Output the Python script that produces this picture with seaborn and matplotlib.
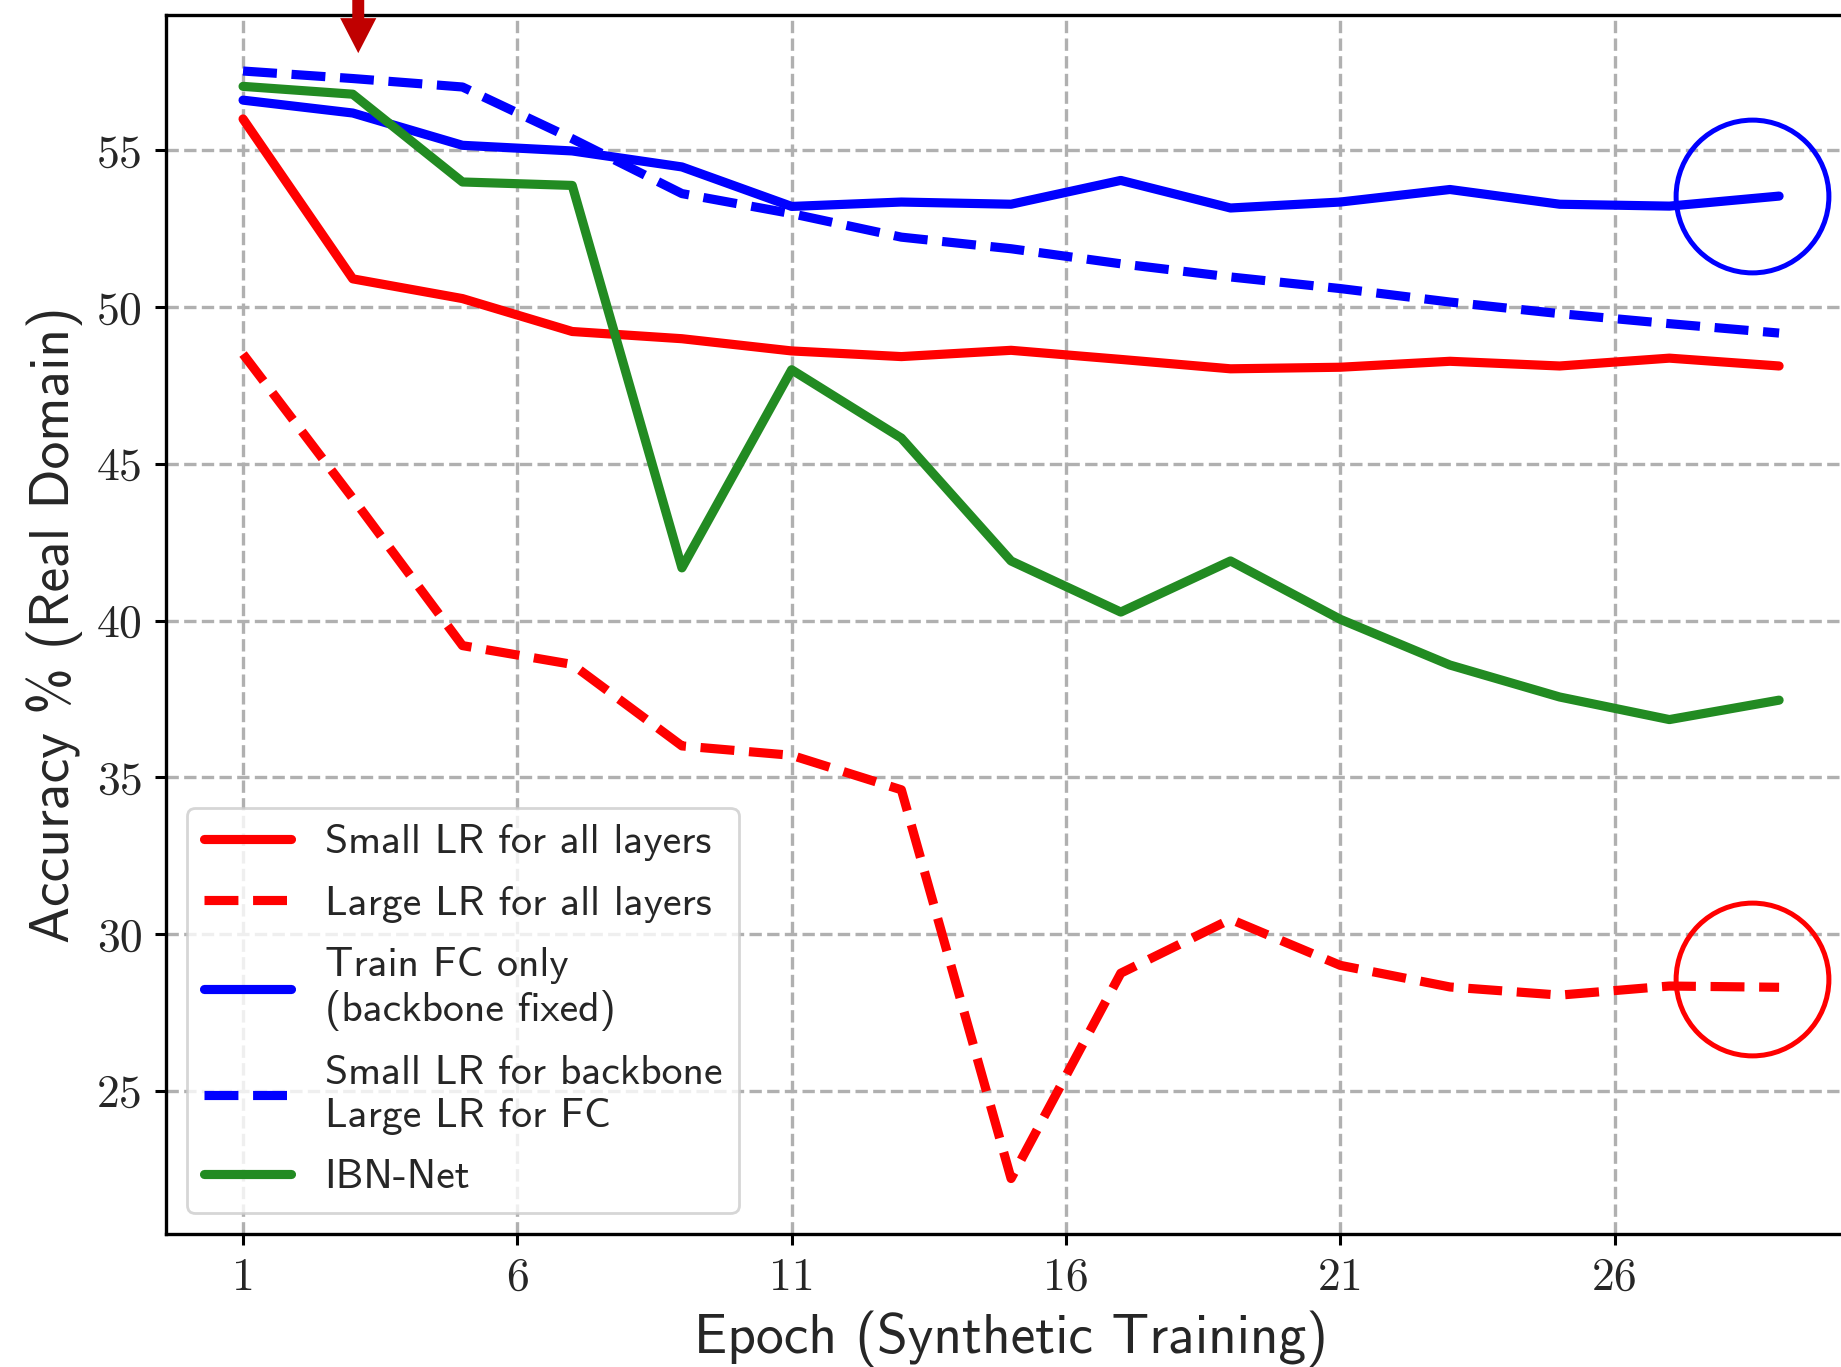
import numpy as np
import pandas as pd
import matplotlib
matplotlib.use('Agg')
import matplotlib.pyplot as plt
import seaborn as sns

# Epochs (every other epoch was evaluated)
epochs = [1, 3, 5, 7, 9, 11, 13, 15, 17, 19, 21, 23, 25, 27, 29]

small_lr_all = [56.0, 50.9, 50.27, 49.22, 48.99, 48.6, 48.42, 48.62, 48.33, 48.03, 48.08, 48.27, 48.12, 48.37, 48.12]
large_lr_all = [48.5, 43.9, 39.2, 38.6, 36.0, 35.7, 34.6, 22.2, 28.75, 30.47, 29.0, 28.31, 28.05, 28.34, 28.3]
train_fc_only = [56.6, 56.19, 55.16, 54.98, 54.47, 53.21, 53.35, 53.28, 54.04, 53.16, 53.35, 53.75, 53.28, 53.22, 53.54]
small_bb_large_fc = [57.53, 57.29, 57.02, 55.37, 53.62, 52.98, 52.23, 51.86, 51.38, 50.96, 50.59, 50.16, 49.79, 49.47, 49.17]
ibn_net = [57.04, 56.79, 53.99, 53.88, 41.68, 48.0, 45.82, 41.9, 40.27, 41.9, 40.04, 38.58, 37.56, 36.84, 37.46]

series_names = ["Small LR for all layers", "Large LR for all layers",
                "Train FC only\n(backbone fixed)",
                "Small LR for backbone\nLarge LR for FC", "IBN-Net"]
series_values = [small_lr_all, large_lr_all, train_fc_only, small_bb_large_fc, ibn_net]
series_colors = ["#ff0000", "#ff0000", "#0000ff", "#0000ff", "#228b22"]
series_styles = ["-", "--", "-", "--", "-"]

xticks = [1, 6, 11, 16, 21, 26]
yticks = [25, 30, 35, 40, 45, 50, 55]

# highlighted end points (circles) and the marker arrow
circle_epoch = 28.5
arrow_epoch = 3.1

sns.set_style('white')
plt.rcParams['font.family'] = ['cmss10', 'DejaVu Sans']
plt.rcParams['axes.unicode_minus'] = False

fig = plt.figure(figsize=(9.205, 6.835), dpi=200)
ax = fig.add_axes([0.0903, 0.0973, 0.9178, 0.8918])

for name, vals, col, ls in zip(series_names, series_values, series_colors, series_styles):
    df = pd.DataFrame({'epoch': epochs, 'acc': vals})
    sns.lineplot(data=df, x='epoch', y='acc', color=col, linestyle=ls,
                 linewidth=3.3, label=name, ax=ax)

# circles around last values
ax.plot([circle_epoch], [train_fc_only[-1]], marker='o', markersize=55, markerfacecolor='none',
        markeredgecolor='#0000ff', markeredgewidth=1.8, linestyle='none')
ax.plot([circle_epoch], [large_lr_all[-1] + 0.25], marker='o', markersize=55, markerfacecolor='none',
        markeredgecolor='#ff0000', markeredgewidth=1.8, linestyle='none')

ax.set_xlim(-0.4, 30.4)
ax.set_ylim(20.43, 59.32)

# arrow at the top
ax.annotate('', xy=(arrow_epoch, 58.1), xytext=(arrow_epoch, 60.6),
            arrowprops=dict(width=4.3, headwidth=13, headlength=12.6, shrink=0,
                            color='#c00000', lw=0),
            annotation_clip=False)

ax.set_xticks(xticks)
ax.set_yticks(yticks)
ax.set_xticklabels([str(t) for t in xticks], fontfamily='cmr10', fontsize=16.5)
ax.set_yticklabels([str(t) for t in yticks], fontfamily='cmr10', fontsize=16.5)
ax.tick_params(direction='out', length=4, width=1.1, color='black', bottom=True, left=True, pad=4.5)

ax.grid(True, linestyle='--', color='#b0b0b0', linewidth=1.2)
for s in ['top', 'bottom', 'left']:
    ax.spines[s].set_color('black')
    ax.spines[s].set_linewidth(1.2)
ax.spines['right'].set_visible(False)

ax.set_xlabel('Epoch (Synthetic Training)', fontsize=20, labelpad=4)
ax.set_ylabel('Accuracy % (Real Domain)', fontsize=20, labelpad=5)

leg = ax.legend(loc='lower left', fontsize=15, handlelength=2.1, framealpha=0.8,
                edgecolor='#cccccc', fancybox=True, labelspacing=0.58)

fig.savefig('out.png', dpi=200)
